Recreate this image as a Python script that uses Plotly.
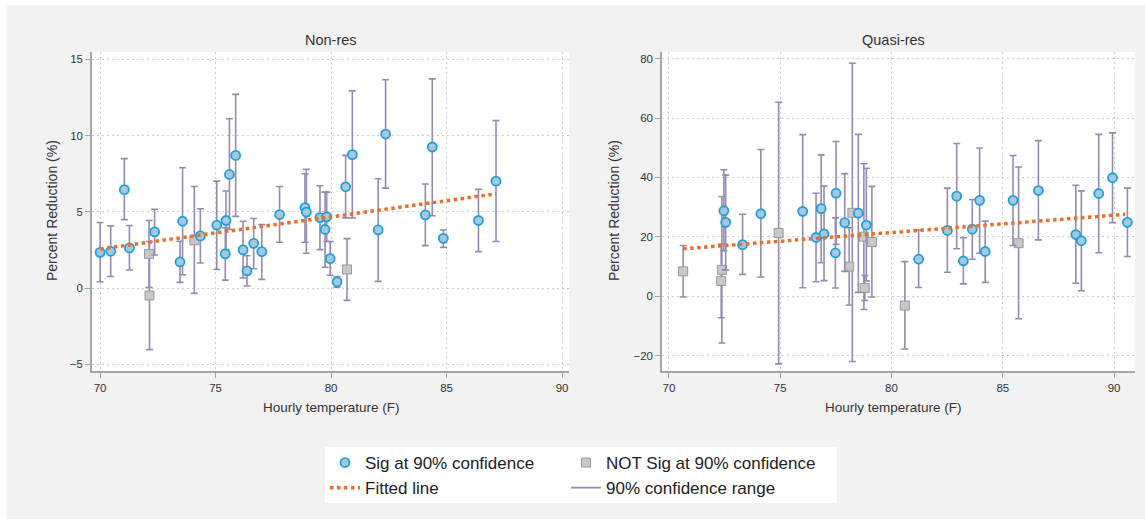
import plotly.graph_objects as go

W, H = 1145, 519

# ---------------- Non-res panel data ----------------
nr_sig_temp = [70.0, 70.46, 71.05, 71.27, 72.36, 73.46, 73.57, 74.34, 75.05, 75.42, 75.45,
               75.6, 75.87, 76.19, 76.36, 76.65, 77.0, 77.77, 78.87, 78.93, 79.52, 79.74,
               79.81, 79.96, 80.26, 80.63, 80.92, 82.04, 82.36, 84.08, 84.38, 84.86, 86.38, 87.14]
nr_sig_val = [2.34, 2.41, 6.45, 2.63, 3.68, 1.71, 4.38, 3.42, 4.12, 2.24, 4.43,
              7.45, 8.7, 2.5, 1.12, 2.93, 2.39, 4.82, 5.28, 4.98, 4.62, 3.84,
              4.67, 1.93, 0.41, 6.64, 8.75, 3.81, 10.1, 4.8, 9.25, 3.26, 4.43, 7.01]
nr_sig_lo = [0.41, 0.76, 4.49, 1.18, 2.17, 0.37, 0.87, 1.64, 1.22, 0.52, 2.52,
             3.85, 4.7, 0.66, 0.13, 1.27, 0.57, 3.0, 3.0, 2.28, 2.52, 1.36,
             3.05, 0.84, 0.06, 4.6, 4.6, 0.44, 6.55, 2.78, 4.74, 2.67, 2.39, 3.05]
nr_sig_hi = [4.3, 4.08, 8.49, 4.1, 5.17, 3.07, 7.89, 5.2, 7.01, 3.96, 6.36,
             11.1, 12.7, 4.38, 2.12, 4.56, 4.16, 6.66, 7.5, 7.78, 6.71, 6.29,
             6.29, 3.05, 0.76, 8.7, 12.93, 7.17, 13.66, 6.82, 13.72, 3.81, 6.47, 10.98]

nr_ns_temp = [72.12, 72.14, 74.08, 80.69]
nr_ns_val = [2.24, -0.49, 3.13, 1.22]
nr_ns_lo = [0.04, -4.04, -0.35, -0.81]
nr_ns_hi = [4.43, 3.05, 6.66, 3.24]

nr_fit_temp = [70.0, 87.14]
nr_fit_val = [2.56, 6.18]

# ---------------- Quasi-res panel data ----------------
qr_sig_temp = [72.47, 72.55, 73.31, 74.13, 76.01, 76.61, 76.84, 76.97, 77.48, 77.51, 77.9,
               78.51, 78.87, 81.22, 82.51, 82.93, 83.23, 83.63, 83.96, 84.21, 85.46, 86.6,
               88.28, 88.53, 89.31, 89.93, 90.6]
qr_sig_val = [28.8, 24.9, 17.4, 27.8, 28.6, 19.8, 29.5, 21.0, 14.6, 34.7, 24.8,
              28.0, 24.0, 12.5, 22.2, 33.7, 11.9, 22.6, 32.3, 15.1, 32.3, 35.6,
              20.8, 18.7, 34.6, 39.9, 24.9]
qr_sig_lo = [15.4, 8.9, 7.4, 6.5, 2.9, 4.9, 11.3, 5.3, 2.8, 17.5, 8.4,
             1.35, 5.2, 3.0, 8.1, 16.0, 4.2, 12.5, 14.5, 4.7, 17.1, 19.0,
             4.4, 1.9, 14.7, 24.8, 13.4]
qr_sig_hi = [42.6, 40.8, 27.6, 49.4, 54.4, 34.7, 47.6, 37.1, 26.4, 52.1, 41.3,
             54.5, 43.1, 22.3, 36.4, 51.4, 19.7, 32.6, 49.9, 25.3, 47.4, 52.4,
             37.4, 35.5, 54.5, 55.0, 36.4]

qr_ns_temp = [70.64, 72.35, 72.38, 74.93, 78.1, 78.24, 78.76, 78.8, 79.12, 80.6, 85.71]
qr_ns_val = [8.43, 5.2, 8.9, 21.3, 10.0, 28.1, 20.1, 2.8, 18.3, -3.1, 17.9]
qr_ns_lo = [-0.2, -7.2, -15.7, -22.7, -2.9, -21.9, -4.4, -1.4, -0.2, -17.7, -7.5]
qr_ns_hi = [17.1, 17.6, 33.6, 65.3, 23.1, 78.4, 44.6, 7.0, 37.0, 11.7, 43.5]

qr_fit_temp = [70.64, 90.5]
qr_fit_val = [16.0, 27.6]

x_ticks = [70, 75, 80, 85, 90]
nr_y_ticks = [-5, 0, 5, 10, 15]
qr_y_ticks = [-20, 0, 20, 40, 60, 80]

panel_titles = ["Non-res", "Quasi-res"]
x_title = "Hourly temperature (F)"
y_title = "Percent Reduction (%)"
legend_labels = ["Sig at 90% confidence", "NOT Sig at 90% confidence",
                 "Fitted line", "90% confidence range"]

# ---------------- styles ----------------
FONT = "Liberation Sans, Arial, sans-serif"
TXT = "#333333"
ERR_C = "#958bb2"
SIG_FILL = "#a6c8de"
SIG_LINE = "#1f9fdc"
NS_FILL = "#c8c8c8"
NS_LINE = "#9a9a9a"
FIT_C = "#e8702a"
AXIS_C = "#a6a6a6"
GRID_C = "#cccccc"
BG = "#f2f2f2"


def px_x(p):
    return p / W


def px_y(p):
    return 1 - p / H


def err(val, lo, hi):
    return dict(type="data", symmetric=False,
                array=[h - v for v, h in zip(val, hi)],
                arrayminus=[v - l for v, l in zip(val, lo)],
                color=ERR_C, thickness=1.6, width=3.5)


fig = go.Figure()

panels = [
    ("x", "y", nr_sig_temp, nr_sig_val, nr_sig_lo, nr_sig_hi,
     nr_ns_temp, nr_ns_val, nr_ns_lo, nr_ns_hi, nr_fit_temp, nr_fit_val, True),
    ("x2", "y2", qr_sig_temp, qr_sig_val, qr_sig_lo, qr_sig_hi,
     qr_ns_temp, qr_ns_val, qr_ns_lo, qr_ns_hi, qr_fit_temp, qr_fit_val, False),
]

for (xa, ya, st, sv, sl, sh, nt, nv, nl, nh, ft, fv, show) in panels:
    fig.add_trace(go.Scatter(
        x=nt, y=nv, mode="markers", xaxis=xa, yaxis=ya,
        name=legend_labels[1], showlegend=show, legend="legend2", legendrank=1,
        marker=dict(symbol="square", size=9, color=NS_FILL,
                    line=dict(color=NS_LINE, width=1)),
        error_y=err(nv, nl, nh)))
    fig.add_trace(go.Scatter(
        x=st, y=sv, mode="markers", xaxis=xa, yaxis=ya,
        name=legend_labels[0], showlegend=show, legend="legend", legendrank=1,
        marker=dict(symbol="circle", size=9, color=SIG_FILL,
                    line=dict(color=SIG_LINE, width=1.8)),
        error_y=err(sv, sl, sh)))
    fig.add_trace(go.Scatter(
        x=ft, y=fv, mode="lines", xaxis=xa, yaxis=ya,
        name=legend_labels[2], showlegend=show, legend="legend", legendrank=2,
        line=dict(color=FIT_C, width=3.5, dash="3.5px,3.5px")))

# legend-only entry for the CI bars
fig.add_trace(go.Scatter(
    x=[None], y=[None], mode="lines", xaxis="x", yaxis="y",
    name=legend_labels[3], showlegend=True, legend="legend2", legendrank=2,
    line=dict(color=ERR_C, width=1.8)))

common_axis = dict(showline=True, linecolor=AXIS_C, linewidth=1.5,
                   ticks="outside", ticklen=5, tickcolor=AXIS_C, tickwidth=1.2,
                   showgrid=True, gridcolor=GRID_C, gridwidth=1, griddash="2px,3px",
                   zeroline=False, automargin=False,
                   tickfont=dict(family=FONT, size=11.5, color=TXT))

y_dom = [px_y(371), px_y(52)]


def ann(text, x, y, size, angle=0):
    return dict(text=text, x=px_x(x), y=px_y(y), xref="paper", yref="paper",
                xanchor="center", yanchor="middle", showarrow=False,
                textangle=angle, font=dict(family=FONT, size=size, color=TXT))


def white_rect(x0, x1, y0, y1):
    return dict(type="rect", xref="paper", yref="paper", layer="below",
                x0=px_x(x0), x1=px_x(x1), y0=px_y(y1), y1=px_y(y0),
                fillcolor="white", line=dict(width=0))


fig.update_layout(
    width=W, height=H,
    margin=dict(l=0, r=0, t=0, b=0),
    paper_bgcolor=BG,
    plot_bgcolor="white",
    font=dict(family=FONT, color=TXT),
    xaxis=dict(domain=[px_x(92), px_x(569)], range=[69.65, 90.3],
               tickvals=x_ticks, anchor="y", **common_axis),
    yaxis=dict(domain=y_dom, range=[-5.44, 15.48], tickvals=nr_y_ticks,
               anchor="x", **common_axis),
    xaxis2=dict(domain=[px_x(662), px_x(1135)], range=[69.69, 90.94],
                tickvals=x_ticks, anchor="y2", **common_axis),
    yaxis2=dict(domain=y_dom, range=[-25.1, 82.2], tickvals=qr_y_ticks,
                anchor="x2", **common_axis),
    legend=dict(x=px_x(325), y=px_y(445), xanchor="left", yanchor="top",
                orientation="v", bgcolor="rgba(0,0,0,0)", borderwidth=0,
                font=dict(family=FONT, size=17, color="#222222"),
                traceorder="normal", tracegroupgap=0),
    legend2=dict(x=px_x(566), y=px_y(445), xanchor="left", yanchor="top",
                 orientation="v", bgcolor="rgba(0,0,0,0)", borderwidth=0,
                 font=dict(family=FONT, size=17, color="#222222"),
                 traceorder="normal", tracegroupgap=0),
    shapes=[
        white_rect(0, 7, 0, H),       # white strip on the left edge
        white_rect(0, W, 0, 5),       # white strip on the top edge
        white_rect(325, 837, 447, 503),  # legend box
    ],
    annotations=[
        ann(panel_titles[0], 331, 40, 14.5),
        ann(panel_titles[1], 893, 40, 14.5),
        ann(x_title, 331, 407, 13.5),
        ann(x_title, 893, 407, 13.5),
        ann(y_title, 52, 211, 14, -90),
        ann(y_title, 614, 211, 14, -90),
    ],
)

fig.write_html("out.html",
               config={"displayModeBar": False},
               post_script="document.body.style.margin='0px';"
                           "document.body.style.overflow='hidden';")
